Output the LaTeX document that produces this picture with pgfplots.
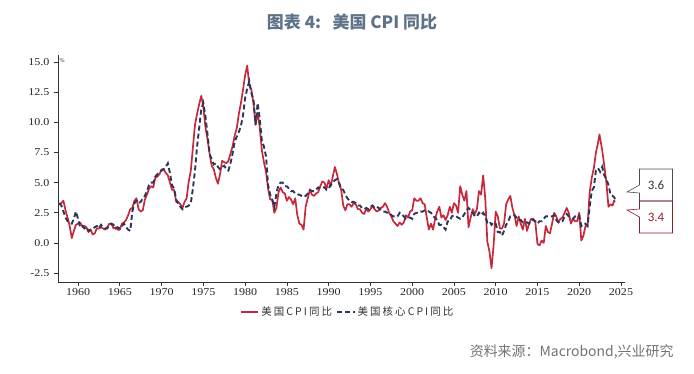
\documentclass[border=0pt]{standalone}
\usepackage{fontspec}
\setmainfont{Liberation Serif}
\newfontfamily\tickfont{Liberation Serif}[FakeStretch=1.15]
\newfontfamily\cjk{Noto Sans CJK SC}
\newfontfamily\legfont{Noto Sans CJK SC}[LetterSpace=20]
\newfontfamily\calib{Carlito}
\usepackage{pgfplots}
\pgfplotsset{compat=1.18}
\usepackage{pgfplotstable}
\usetikzlibrary{shapes.callouts}
\definecolor{cpired}{HTML}{C8283C}
\definecolor{corenavy}{HTML}{2B3756}
\definecolor{titlegray}{HTML}{5F7289}
\definecolor{axgray}{HTML}{333333}

\pgfplotstableread[row sep=\\]{
x y\\
1957.75 3.2\\ 1958.0 3.3\\ 1958.25 3.5\\ 1958.5 2.7\\ 1958.75 2.1\\
1959.0 1.4\\ 1959.25 0.4\\ 1959.5 1.0\\ 1959.75 1.5\\
1960.0 1.6\\ 1960.25 1.7\\ 1960.5 1.4\\ 1960.75 1.4\\
1961.0 1.3\\ 1961.25 0.9\\ 1961.5 1.1\\ 1961.75 0.7\\
1962.0 0.8\\ 1962.25 1.2\\ 1962.5 1.2\\ 1962.75 1.3\\
1963.0 1.2\\ 1963.25 1.1\\ 1963.5 1.3\\ 1963.75 1.6\\
1964.0 1.6\\ 1964.25 1.2\\ 1964.5 1.3\\ 1964.75 1.1\\
1965.0 1.1\\ 1965.25 1.6\\ 1965.5 1.7\\ 1965.75 1.9\\
1966.0 2.3\\ 1966.25 2.8\\ 1966.5 2.9\\ 1966.75 3.5\\
1967.0 3.7\\ 1967.25 2.8\\ 1967.5 2.6\\ 1967.75 2.7\\
1968.0 3.6\\ 1968.25 4.0\\ 1968.5 4.5\\ 1968.75 4.7\\
1969.0 4.6\\ 1969.25 5.4\\ 1969.5 5.5\\ 1969.75 5.7\\
1970.0 6.1\\ 1970.25 6.1\\ 1970.5 5.8\\ 1970.75 5.6\\
1971.0 5.0\\ 1971.25 4.4\\ 1971.5 4.4\\ 1971.75 3.4\\
1972.0 3.4\\ 1972.25 3.2\\ 1972.5 2.9\\ 1972.75 3.4\\
1973.0 3.7\\ 1973.25 5.1\\ 1973.5 6.0\\ 1973.75 7.9\\
1974.0 9.8\\ 1974.25 10.7\\ 1974.5 11.5\\ 1974.75 12.2\\
1975.0 11.3\\ 1975.25 9.6\\ 1975.5 8.6\\ 1975.75 7.4\\
1976.0 6.4\\ 1976.25 6.1\\ 1976.5 5.4\\ 1976.75 4.9\\
1977.0 5.7\\ 1977.25 6.8\\ 1977.5 6.7\\ 1977.75 6.6\\
1978.0 6.8\\ 1978.25 7.4\\ 1978.5 8.0\\ 1978.75 8.9\\
1979.0 9.5\\ 1979.25 10.7\\ 1979.5 11.6\\ 1979.75 12.7\\
1980.0 13.9\\ 1980.25 14.7\\ 1980.5 13.1\\ 1980.75 12.7\\
1981.0 11.6\\ 1981.25 9.8\\ 1981.5 10.8\\ 1981.75 9.6\\
1982.0 7.7\\ 1982.25 6.7\\ 1982.5 5.9\\ 1982.75 4.5\\
1983.0 3.6\\ 1983.25 3.6\\ 1983.5 2.5\\ 1983.75 2.9\\
1984.0 4.2\\ 1984.25 4.6\\ 1984.5 4.2\\ 1984.75 4.1\\
1985.0 3.5\\ 1985.25 3.8\\ 1985.5 3.6\\ 1985.75 3.2\\
1986.0 3.7\\ 1986.25 2.3\\ 1986.5 1.6\\ 1986.75 1.5\\
1987.0 1.1\\ 1987.25 3.0\\ 1987.5 3.7\\ 1987.75 4.4\\
1988.0 4.0\\ 1988.25 3.9\\ 1988.5 4.1\\ 1988.75 4.2\\
1989.0 4.7\\ 1989.25 5.1\\ 1989.5 5.0\\ 1989.75 4.5\\
1990.0 5.2\\ 1990.25 4.7\\ 1990.5 5.5\\ 1990.75 6.3\\
1991.0 5.7\\ 1991.25 4.9\\ 1991.5 4.4\\ 1991.75 3.1\\
1992.0 2.7\\ 1992.25 3.2\\ 1992.5 3.2\\ 1992.75 3.0\\
1993.0 3.3\\ 1993.25 3.2\\ 1993.5 2.8\\ 1993.75 2.8\\
1994.0 2.5\\ 1994.25 2.4\\ 1994.5 2.8\\ 1994.75 2.6\\
1995.0 2.8\\ 1995.25 3.1\\ 1995.5 2.8\\ 1995.75 2.6\\
1996.0 2.7\\ 1996.25 2.9\\ 1996.5 3.0\\ 1996.75 3.3\\
1997.0 3.0\\ 1997.25 2.5\\ 1997.5 2.2\\ 1997.75 1.8\\
1998.0 1.6\\ 1998.25 1.4\\ 1998.5 1.7\\ 1998.75 1.5\\
1999.0 1.7\\ 1999.25 2.3\\ 1999.5 2.1\\ 1999.75 2.6\\
2000.0 2.7\\ 2000.25 3.7\\ 2000.5 3.5\\ 2000.75 3.5\\
2001.0 3.7\\ 2001.25 3.3\\ 2001.5 3.2\\ 2001.75 2.1\\
2002.0 1.1\\ 2002.25 1.6\\ 2002.5 1.1\\ 2002.75 2.0\\
2003.0 2.6\\ 2003.25 3.0\\ 2003.5 2.1\\ 2003.75 2.3\\
2004.0 1.9\\ 2004.25 2.3\\ 2004.5 3.0\\ 2004.75 2.5\\
2005.0 3.3\\ 2005.25 3.1\\ 2005.5 2.5\\ 2005.75 4.7\\
2006.0 4.0\\ 2006.25 3.5\\ 2006.5 4.3\\ 2006.75 1.3\\
2007.0 2.1\\ 2007.25 2.8\\ 2007.5 2.4\\ 2007.75 2.8\\
2008.0 4.3\\ 2008.25 4.0\\ 2008.5 5.6\\ 2008.75 3.7\\
2009.0 0.1\\ 2009.25 -0.7\\ 2009.5 -2.1\\ 2009.75 -0.2\\
2010.0 2.6\\ 2010.25 2.2\\ 2010.5 1.2\\ 2010.75 1.2\\
2011.0 1.6\\ 2011.25 3.2\\ 2011.5 3.6\\ 2011.75 3.9\\
2012.0 2.9\\ 2012.25 2.3\\ 2012.5 1.4\\ 2012.75 2.2\\
2013.0 1.6\\ 2013.25 1.1\\ 2013.5 2.0\\ 2013.75 1.0\\
2014.0 1.6\\ 2014.25 2.0\\ 2014.5 2.0\\ 2014.75 1.7\\
2015.0 -0.1\\ 2015.25 -0.2\\ 2015.5 0.2\\ 2015.75 0.0\\
2016.0 1.4\\ 2016.25 0.9\\ 2016.5 0.8\\ 2016.75 1.6\\
2017.0 2.5\\ 2017.25 2.2\\ 2017.5 1.7\\ 2017.75 2.0\\
2018.0 2.1\\ 2018.25 2.5\\ 2018.5 2.9\\ 2018.75 2.5\\
2019.0 1.6\\ 2019.25 2.0\\ 2019.5 1.8\\ 2019.75 1.8\\
2020.0 2.5\\ 2020.25 0.2\\ 2020.5 0.6\\ 2020.75 1.4\\
2021.0 1.4\\ 2021.25 4.2\\ 2021.5 5.4\\ 2021.75 6.2\\
2022.0 7.5\\ 2022.25 8.3\\ 2022.42 9.0\\ 2022.75 7.7\\
2023.0 6.4\\ 2023.25 5.0\\ 2023.5 3.0\\ 2023.75 3.2\\
2024.0 3.1\\ 2024.17 3.5\\ 2024.3 3.4\\
}\cpi

\pgfplotstableread[row sep=\\]{
x y\\
1957.75 3.3\\ 1958.0 3.1\\ 1958.25 2.6\\ 1958.5 2.1\\ 1958.75 1.8\\
1959.0 1.7\\ 1959.25 1.6\\ 1959.5 2.0\\ 1959.75 2.6\\
1960.0 2.0\\ 1960.25 1.3\\ 1960.5 1.4\\ 1960.75 1.2\\
1961.0 1.3\\ 1961.25 1.0\\ 1961.5 1.1\\ 1961.75 1.2\\
1962.0 1.3\\ 1962.25 1.4\\ 1962.5 1.2\\ 1962.75 1.5\\
1963.0 1.3\\ 1963.25 1.2\\ 1963.5 1.2\\ 1963.75 1.5\\
1964.0 1.6\\ 1964.25 1.5\\ 1964.5 1.2\\ 1964.75 1.3\\
1965.0 1.2\\ 1965.25 1.4\\ 1965.5 1.6\\ 1965.75 1.3\\
1966.0 1.1\\ 1966.25 1.0\\ 1966.5 2.6\\ 1966.75 3.3\\
1967.0 3.5\\ 1967.25 3.3\\ 1967.5 3.4\\ 1967.75 3.7\\
1968.0 3.9\\ 1968.25 4.3\\ 1968.5 4.8\\ 1968.75 5.0\\
1969.0 5.0\\ 1969.25 5.5\\ 1969.5 5.7\\ 1969.75 5.9\\
1970.0 6.0\\ 1970.25 6.1\\ 1970.5 6.3\\ 1970.75 6.6\\
1971.0 5.8\\ 1971.25 4.8\\ 1971.5 4.5\\ 1971.75 3.6\\
1972.0 3.2\\ 1972.25 3.0\\ 1972.5 2.8\\ 1972.75 3.0\\
1973.0 3.0\\ 1973.25 3.1\\ 1973.5 3.3\\ 1973.75 4.5\\
1974.0 6.0\\ 1974.25 8.0\\ 1974.5 9.5\\ 1974.75 11.1\\
1975.0 11.6\\ 1975.25 10.5\\ 1975.5 9.0\\ 1975.75 7.4\\
1976.0 6.9\\ 1976.25 6.5\\ 1976.5 6.6\\ 1976.75 6.3\\
1977.0 6.1\\ 1977.25 6.3\\ 1977.5 6.4\\ 1977.75 6.1\\
1978.0 6.0\\ 1978.25 6.6\\ 1978.5 7.4\\ 1978.75 8.4\\
1979.0 8.8\\ 1979.25 9.2\\ 1979.5 9.7\\ 1979.75 10.6\\
1980.0 12.0\\ 1980.25 12.8\\ 1980.5 13.4\\ 1980.75 12.4\\
1981.0 11.9\\ 1981.25 9.8\\ 1981.5 11.6\\ 1981.75 10.3\\
1982.0 8.5\\ 1982.25 8.0\\ 1982.5 7.2\\ 1982.75 4.8\\
1983.0 4.0\\ 1983.25 3.6\\ 1983.5 3.0\\ 1983.75 4.1\\
1984.0 4.8\\ 1984.25 5.0\\ 1984.5 5.0\\ 1984.75 4.7\\
1985.0 4.7\\ 1985.25 4.5\\ 1985.5 4.3\\ 1985.75 4.3\\
1986.0 4.1\\ 1986.25 4.0\\ 1986.5 4.0\\ 1986.75 3.9\\
1987.0 3.8\\ 1987.25 3.9\\ 1987.5 4.1\\ 1987.75 4.4\\
1988.0 4.3\\ 1988.25 4.3\\ 1988.5 4.4\\ 1988.75 4.6\\
1989.0 4.5\\ 1989.25 4.6\\ 1989.5 4.6\\ 1989.75 4.4\\
1990.0 4.5\\ 1990.25 4.8\\ 1990.5 5.0\\ 1990.75 5.2\\
1991.0 5.3\\ 1991.25 5.0\\ 1991.5 4.5\\ 1991.75 4.4\\
1992.0 4.0\\ 1992.25 3.7\\ 1992.5 3.5\\ 1992.75 3.4\\
1993.0 3.4\\ 1993.25 3.3\\ 1993.5 3.1\\ 1993.75 3.1\\
1994.0 2.9\\ 1994.25 2.8\\ 1994.5 2.9\\ 1994.75 2.8\\
1995.0 3.0\\ 1995.25 3.1\\ 1995.5 2.9\\ 1995.75 3.0\\
1996.0 2.9\\ 1996.25 2.7\\ 1996.5 2.6\\ 1996.75 2.6\\
1997.0 2.5\\ 1997.25 2.5\\ 1997.5 2.3\\ 1997.75 2.2\\
1998.0 2.2\\ 1998.25 2.2\\ 1998.5 2.5\\ 1998.75 2.4\\
1999.0 2.2\\ 1999.25 2.0\\ 1999.5 2.1\\ 1999.75 2.1\\
2000.0 2.0\\ 2000.25 2.4\\ 2000.5 2.5\\ 2000.75 2.5\\
2001.0 2.6\\ 2001.25 2.6\\ 2001.5 2.7\\ 2001.75 2.7\\
2002.0 2.6\\ 2002.25 2.5\\ 2002.5 2.2\\ 2002.75 2.1\\
2003.0 1.9\\ 2003.25 1.5\\ 2003.5 1.5\\ 2003.75 1.3\\
2004.0 1.1\\ 2004.25 1.8\\ 2004.5 1.8\\ 2004.75 2.2\\
2005.0 2.3\\ 2005.25 2.2\\ 2005.5 2.1\\ 2005.75 2.0\\
2006.0 2.1\\ 2006.25 2.4\\ 2006.5 2.7\\ 2006.75 2.9\\
2007.0 2.7\\ 2007.25 2.5\\ 2007.5 2.2\\ 2007.75 2.2\\
2008.0 2.5\\ 2008.25 2.3\\ 2008.5 2.5\\ 2008.75 2.2\\
2009.0 1.7\\ 2009.25 1.8\\ 2009.5 1.5\\ 2009.75 1.7\\
2010.0 1.6\\ 2010.25 0.9\\ 2010.5 0.9\\ 2010.75 0.6\\
2011.0 1.0\\ 2011.25 1.5\\ 2011.5 1.8\\ 2011.75 2.2\\
2012.0 2.2\\ 2012.25 2.3\\ 2012.5 2.1\\ 2012.75 1.9\\
2013.0 1.9\\ 2013.25 1.7\\ 2013.5 1.7\\ 2013.75 1.7\\
2014.0 1.6\\ 2014.25 1.9\\ 2014.5 1.9\\ 2014.75 1.8\\
2015.0 1.6\\ 2015.25 1.8\\ 2015.5 1.8\\ 2015.75 2.0\\
2016.0 2.2\\ 2016.25 2.2\\ 2016.5 2.2\\ 2016.75 2.2\\
2017.0 2.3\\ 2017.25 1.9\\ 2017.5 1.7\\ 2017.75 1.8\\
2018.0 1.8\\ 2018.25 2.2\\ 2018.5 2.4\\ 2018.75 2.2\\
2019.0 2.1\\ 2019.25 2.0\\ 2019.5 2.2\\ 2019.75 2.3\\
2020.0 2.3\\ 2020.25 1.4\\ 2020.5 1.6\\ 2020.75 1.6\\
2021.0 1.4\\ 2021.25 3.0\\ 2021.5 4.3\\ 2021.75 4.6\\
2022.0 6.0\\ 2022.25 6.2\\ 2022.5 5.9\\ 2022.75 6.3\\
2023.0 5.6\\ 2023.25 5.3\\ 2023.5 4.8\\ 2023.75 4.0\\
2024.0 3.9\\ 2024.17 3.8\\ 2024.3 3.6\\
}\core

\begin{document}
\begin{tikzpicture}
\path[use as bounding box] (0,0) rectangle (694bp,374bp);
\begin{axis}[
  at={(58bp,92bp)}, anchor=south west,
  scale only axis, width=567bp, height=227bp,
  xmin=1957.6, xmax=2025.48, ymin=-3.24, ymax=15.58,
  axis lines*=left,
  axis line style={axgray, line width=0.8bp},
  tick align=outside, major tick length=4bp,
  tick style={axgray, line width=0.7bp},
  xtick={1960,1965,...,2025},
  ytick={-2.5,0,2.5,5,7.5,10,12.5,15},
  /pgf/number format/assume math mode=true,
  xticklabel style={/pgf/number format/1000 sep={}, font=\tickfont\fontsize{10.5}{10.5}\selectfont, text=black!85, yshift=1bp},
  yticklabel style={/pgf/number format/fixed, /pgf/number format/fixed zerofill, /pgf/number format/precision=1, font=\tickfont\fontsize{10.5}{10.5}\selectfont, text=black!85, xshift=-1bp},
  legend style={at={(0.511,-0.131)}, anchor=center, draw=none, fill=none, legend columns=2,
    font=\legfont\fontsize{10.5}{11}\selectfont, text=black!80,
    /tikz/every even column/.append style={column sep=2bp}},
  legend cell align=left,
  legend image code/.code={\draw[#1] (0cm,0cm) -- (0.62cm,0cm);},
  clip=true,
]
\addplot[cpired, line width=1.7bp, line join=round] table[x=x,y=y] {\cpi};
\addlegendentry{美国CPI同比}
\addplot[corenavy, line width=1.9bp, dash pattern=on 5bp off 3bp] table[x=x,y=y] {\core};
\addlegendentry{美国核心CPI同比}
\end{axis}
\node[font=\fontsize{6}{6}\selectfont, text=black!80] at (62bp,313bp) {\%};
\node[font=\cjk\bfseries\fontsize{17}{18}\selectfont, text=titlegray] at (352bp,352bp) {图表 4:\ \ \ 美国 CPI 同比};
\node[font=\cjk\fontsize{14}{15}\selectfont, text=black!55, anchor=east] at (677bp,22bp) {资料来源：Macrobond,兴业研究};
\node[rectangle callout, draw=black!70, line width=0.6bp, minimum width=33bp, minimum height=32bp, inner sep=0pt,
  callout absolute pointer={(627bp,182bp)}, callout pointer width=8bp,
  font=\calib\fontsize{13}{13}\selectfont, text=black!80] at (656bp,189bp) {3.6};
\node[rectangle callout, draw=cpired!70!black, line width=0.6bp, minimum width=33bp, minimum height=32bp, inner sep=0pt,
  callout absolute pointer={(627bp,164bp)}, callout pointer width=8bp,
  font=\calib\fontsize{13}{13}\selectfont, text=cpired!75!black] at (656bp,157bp) {3.4};
\end{tikzpicture}
\end{document}
